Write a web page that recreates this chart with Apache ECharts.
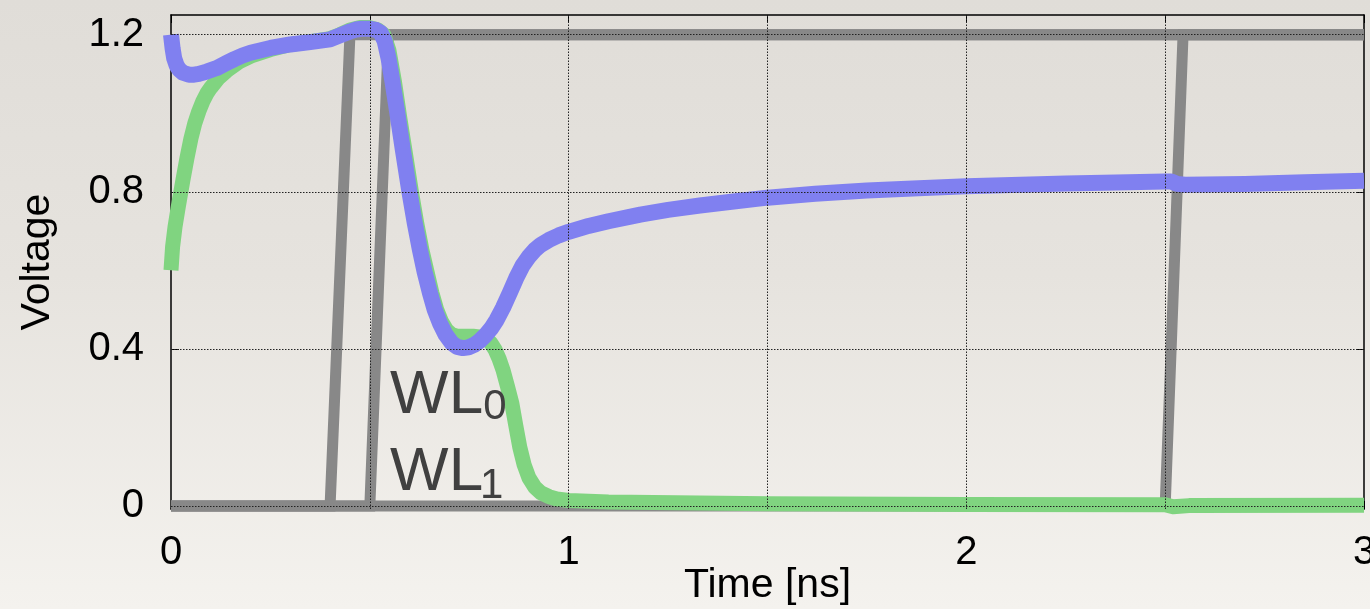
<!DOCTYPE html>
<html><head><meta charset="utf-8">
<script src="https://cdn.jsdelivr.net/npm/echarts@6/dist/echarts.min.js"></script>
<style>
html,body{margin:0;padding:0;width:1370px;height:609px;overflow:hidden;
background:linear-gradient(180deg,#e0ddd8 0%,#e6e3de 45%,#f4f2ee 100%);}
#c{width:1370px;height:609px;}
</style>
</head><body><div id="c"></div>
<script>
// ---- data ----
const xLabelValues = [0, 1, 2, 3];
const yLabelValues = [0, 0.4, 0.8, 1.2];
const xGridValues = [0.5, 1, 1.5, 2, 2.5];
const yGridValues = [0, 0.4, 0.8, 1.2];

const wl0 = [[0,0],[0.40,0],[0.45,1.2],[3,1.2]];
const wl1 = [[0,0],[0.50,0],[0.547,1.2],[3,1.2]];
const wl2 = [[0,0],[2.50,0],[2.545,1.2],[3,1.2]];

const greenData = [[0,0.6],[0.004,0.66],[0.01,0.71],[0.018,0.76],[0.03,0.83],[0.04,0.885],[0.05,0.935],
  [0.06,0.975],[0.07,1.005],[0.08,1.03],[0.09,1.05],[0.1,1.065],[0.12,1.09],[0.14,1.108],[0.17,1.13],
  [0.2,1.145],[0.25,1.162],[0.3,1.175],[0.35,1.182],[0.4,1.19],[0.425,1.2],[0.45,1.212],[0.475,1.218],
  [0.5,1.218],[0.52,1.212],[0.535,1.2],[0.548,1.16],[0.562,1.08],[0.575,0.99],[0.588,0.907],
  [0.605,0.797],[0.618,0.72],[0.631,0.652],[0.644,0.595],[0.656,0.543],[0.668,0.5],[0.68,0.47],
  [0.693,0.448],[0.705,0.437],[0.72,0.432],[0.74,0.432],[0.76,0.432],[0.78,0.43],[0.795,0.424],
  [0.805,0.414],[0.815,0.398],[0.825,0.375],[0.835,0.346],[0.846,0.305],[0.857,0.262],[0.867,0.205],
  [0.877,0.15],[0.888,0.105],[0.9,0.072],[0.915,0.048],[0.93,0.034],[0.95,0.024],[0.97,0.018],
  [1.0,0.014],[1.1,0.01],[1.5,0.006],[2.0,0.004],[2.5,0.003],[2.52,-0.002],[2.56,0.001],[3,0.002]];

const blueData = [[0,1.2],[0.004,1.165],[0.008,1.14],[0.014,1.122],[0.02,1.112],[0.03,1.103],[0.045,1.098],
  [0.058,1.098],[0.07,1.1],[0.09,1.106],[0.115,1.115],[0.14,1.128],[0.16,1.138],[0.18,1.147],
  [0.2,1.154],[0.25,1.166],[0.3,1.175],[0.35,1.181],[0.4,1.188],[0.425,1.198],[0.45,1.208],
  [0.465,1.213],[0.48,1.215],[0.5,1.215],[0.515,1.212],[0.527,1.205],[0.537,1.185],[0.547,1.14],
  [0.557,1.08],[0.57,0.995],[0.583,0.907],[0.6,0.797],[0.613,0.72],[0.626,0.652],[0.638,0.595],
  [0.651,0.543],[0.663,0.5],[0.676,0.466],[0.69,0.437],[0.706,0.415],[0.72,0.405],[0.734,0.402],
  [0.748,0.404],[0.762,0.41],[0.776,0.42],[0.79,0.434],[0.805,0.452],[0.819,0.474],[0.835,0.505],
  [0.852,0.543],[0.868,0.58],[0.884,0.612],[0.9,0.635],[0.915,0.652],[0.93,0.665],[0.95,0.677],
  [0.975,0.689],[1.0,0.698],[1.05,0.713],[1.1,0.725],[1.18,0.742],[1.25,0.754],[1.33,0.765],
  [1.42,0.776],[1.5,0.785],[1.62,0.795],[1.75,0.803],[1.88,0.809],[2.0,0.814],[2.25,0.821],
  [2.5,0.826],[2.515,0.826],[2.53,0.82],[2.55,0.818],[2.7,0.82],[2.85,0.824],[3,0.828]];

// annotation anchors in data units: [text, t, v, fontSize]
const annotations = [
  ['WL', 0.551, 0.281, 62], ['0', 0.785, 0.252, 42],
  ['WL', 0.551, 0.084, 62], ['1', 0.777, 0.051, 42]
];

const FONT = 'Liberation Sans, Arial, sans-serif';
const chart = echarts.init(document.getElementById('c'), null, {renderer: 'canvas'});

function graySeries(d) {
  return {type: 'line', data: d, symbol: 'none', clip: false, silent: true,
    lineStyle: {color: '#888888', width: 11, cap: 'butt', join: 'miter'},
    itemStyle: {color: '#888888'}, z: 2};
}
const gridMarks = [];
xGridValues.forEach(v => gridMarks.push({xAxis: v}));
yGridValues.forEach(v => gridMarks.push({yAxis: v}));

const tickStyle = {show: true, inside: true, length: 8, lineStyle: {color: '#000', width: 1}};
const lineStyleAxis = {show: true, onZero: false, lineStyle: {color: '#000', width: 1.5}};

chart.setOption({
  animation: false,
  backgroundColor: 'transparent',
  grid: {left: 171, right: 6, top: 15, bottom: 100, containLabel: false, outerBoundsMode: 'none'},
  xAxis: [
    {type: 'value', min: 0, max: 3, interval: 0.5, position: 'bottom',
      axisLine: lineStyleAxis, axisTick: tickStyle, splitLine: {show: false},
      name: 'Time [ns]', nameLocation: 'middle', nameGap: 56, nameMoveOverlap: false,
      nameTextStyle: {fontSize: 41, color: '#000', fontFamily: FONT},
      axisLabel: {customValues: xLabelValues, fontSize: 40, color: '#000', fontFamily: FONT, margin: 24,
        hideOverlap: false}},
    {type: 'value', min: 0, max: 3, interval: 0.5, position: 'top',
      axisLine: lineStyleAxis, axisTick: tickStyle, axisLabel: {show: false}, splitLine: {show: false}}
  ],
  yAxis: [
    {type: 'value', min: -0.0076, max: 1.25, position: 'left',
      axisLine: lineStyleAxis,
      axisTick: Object.assign({customValues: yLabelValues}, tickStyle),
      axisLabel: {customValues: yLabelValues, fontSize: 40, color: '#000', fontFamily: FONT, margin: 27,
        formatter: v => String(Math.round(v * 10) / 10)},
      splitLine: {show: false},
      name: 'Voltage', nameLocation: 'middle', nameGap: 113, nameRotate: 90, nameMoveOverlap: false,
      nameTextStyle: {fontSize: 41, color: '#000', fontFamily: FONT}},
    {type: 'value', min: -0.0076, max: 1.25, position: 'right',
      axisLine: lineStyleAxis,
      axisTick: Object.assign({customValues: yLabelValues}, tickStyle),
      axisLabel: {show: false}, splitLine: {show: false}}
  ],
  series: [
    Object.assign(graySeries(wl0), {markLine: {silent: true, symbol: 'none', animation: false,
      label: {show: false}, z: 5,
      lineStyle: {type: [1.5, 1.5], color: '#222', width: 1}, data: gridMarks}}),
    graySeries(wl1),
    graySeries(wl2),
    {type: 'line', data: greenData, symbol: 'none', clip: false, silent: true,
      lineStyle: {color: '#80d480', width: 15, cap: 'butt', join: 'round'}, itemStyle: {color: '#80d480'}, z: 3},
    {type: 'line', data: blueData, symbol: 'none', clip: false, silent: true,
      lineStyle: {color: '#8080f0', width: 16, cap: 'butt', join: 'round'}, itemStyle: {color: '#8080f0'}, z: 4}
  ]
});

const graphics = annotations.map(a => {
  const p = chart.convertToPixel({gridIndex: 0}, [a[1], a[2]]);
  return {type: 'text', x: p[0], y: p[1], silent: true, z: 10,
    style: {text: a[0], fill: '#404040', font: a[3] + 'px ' + FONT,
      textAlign: 'left', textVerticalAlign: 'middle', align: 'left', verticalAlign: 'middle'}};
});
chart.setOption({graphic: graphics});
</script>
</body></html>
